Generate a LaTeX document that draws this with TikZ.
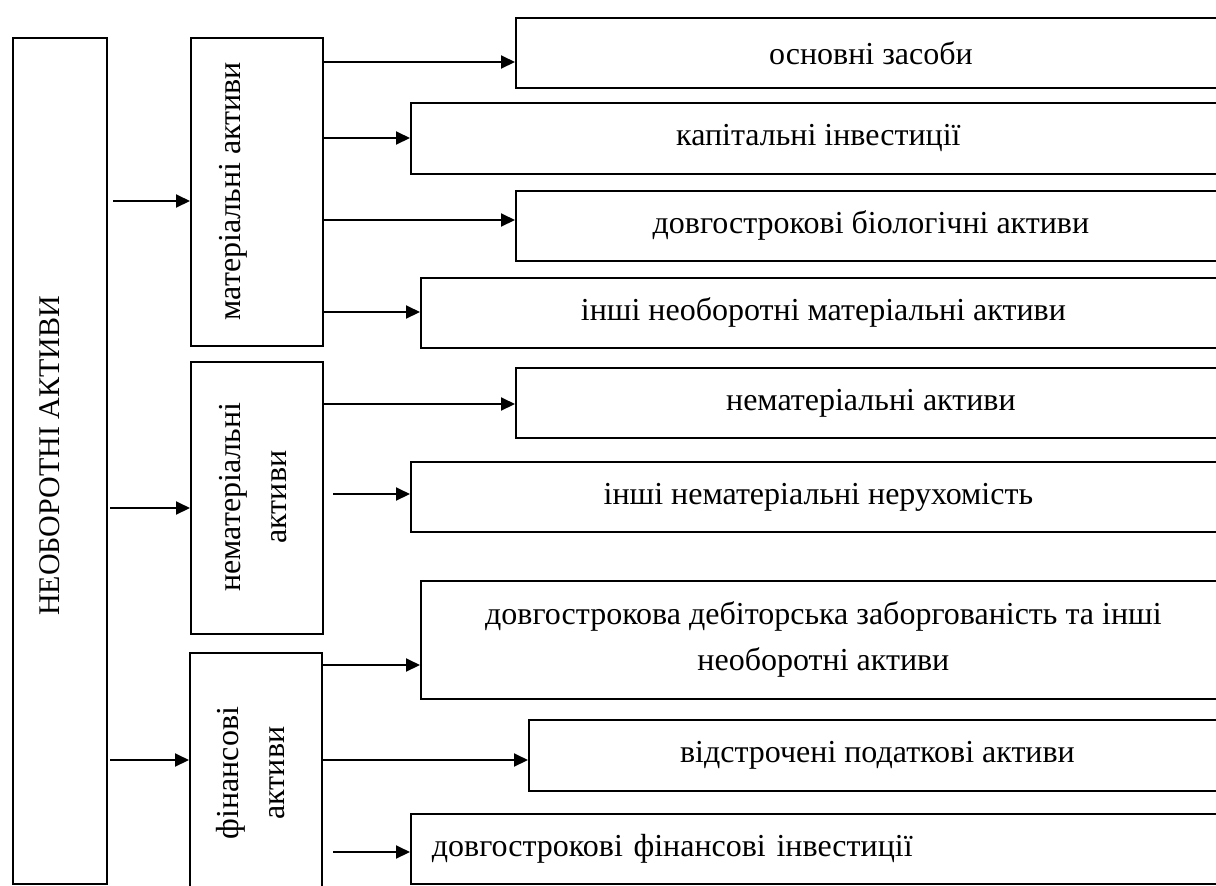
\documentclass[tikz,border=0pt]{standalone}
\usepackage{fontspec}
\setmainfont{Liberation Serif}
\usetikzlibrary{arrows.meta, positioning}

\begin{document}
\begin{tikzpicture}[x=0.5pt, y=-0.5pt, font=\fontsize{16pt}{23pt}\selectfont,
    blk/.style={draw, line width=0.9pt, anchor=north west, inner sep=0pt},
    vlbl/.style={rotate=90, align=center},
    arr/.style={-{Triangle[length=7pt, width=6.5pt]}, line width=1pt}]
                \useasboundingbox (0,0) rectangle (1216,885);

                % left column
                \node[blk, minimum width=47pt, minimum height=423pt] (main) at (12,37) {};
                \node[vlbl, font=\fontsize{15pt}{18pt}\selectfont] (mainlbl) at (50,456) {НЕОБОРОТНІ АКТИВИ};

                \node[blk, minimum width=66pt, minimum height=154pt] (matA) at (190,37) {};
                \node[vlbl] (matlbl) at (233,191) {матеріальні активи};
                \node[blk, minimum width=66pt, minimum height=136pt] (nematA) at (190,361) {};
                \node[vlbl] (nematlbl) at (253,497) {нематеріальні\\активи};
                \node[blk, minimum width=66pt, minimum height=124pt] (finA) at (189,652) {};
                \node[vlbl] (finlbl) at (251,773) {фінансові\\активи};

                % right column
                \node[blk, minimum width=355pt, minimum height=35pt] (osn) at (515,17) {основні засоби};
                \node[blk, minimum width=407.5pt, minimum height=35.5pt] (kap) at (410,102) {капітальні інвестиції};
                \node[blk, minimum width=355pt, minimum height=35pt] (bio) at (515,190) {довгострокові біологічні активи};
                \node[blk, minimum width=402.5pt, minimum height=35pt] (inmat) at (420,277) {інші необоротні матеріальні активи};
                \node[blk, minimum width=355pt, minimum height=35pt] (nemat) at (515,367) {нематеріальні активи};
                \node[blk, minimum width=407.5pt, minimum height=35pt] (innemat) at (410,461) {інші нематеріальні нерухомість};
                \node[blk, minimum width=402.5pt, minimum height=59pt, align=center] (deb) at (420,580) {довгострокова дебіторська заборгованість та інші\\необоротні активи};
                \node[blk, minimum width=348.5pt, minimum height=35.5pt] (vidst) at (528,719) {відстрочені податкові активи};
                \node[blk, minimum height=35pt, inner xsep=10.5pt, text width=386.5pt, align=left] (finv) at (410,813) {довгострокові фінансові інвестиції};

                % free ends
                \coordinate (s1) at (113,201);
                \coordinate (s2) at (110,508);
                \coordinate (s3) at (110,760);
                \coordinate (s4) at (333,494);
                \coordinate (s5) at (333,852);

                % arrows
                \draw[arr] (s1) -- (matA.west |- s1);
                \draw[arr] (s2) -- (nematA.west |- s2);
                \draw[arr] (s3) -- (finA.west |- s3);

                \draw[arr] (matA.east |- 0,62) -- (osn.west |- 0,62);
                \draw[arr] (matA.east |- 0,138) -- (kap.west |- 0,138);
                \draw[arr] (matA.east |- 0,220) -- (bio.west |- 0,220);
                \draw[arr] (matA.east |- 0,312) -- (inmat.west |- 0,312);

                \draw[arr] (nematA.east |- 0,404) -- (nemat.west |- 0,404);
                \draw[arr] (s4) -- (innemat.west |- s4);

                \draw[arr] (finA.east |- 0,665) -- (deb.west |- 0,665);
                \draw[arr] (finA.east |- 0,760) -- (vidst.west |- 0,760);
                \draw[arr] (s5) -- (finv.west |- s5);
            \end{tikzpicture}
\end{document}
